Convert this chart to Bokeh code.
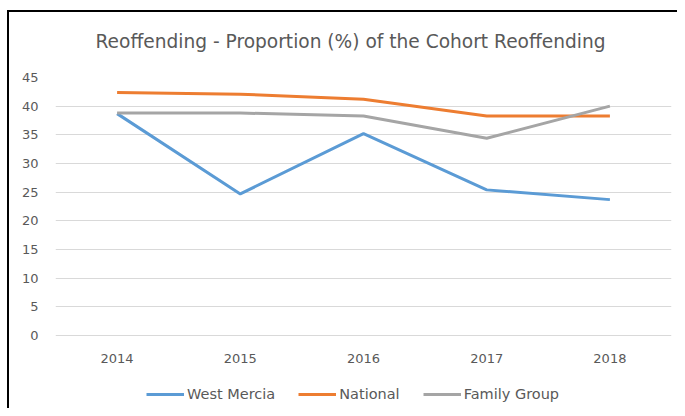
from bokeh.plotting import figure
from bokeh.models import Range1d, FixedTicker, Legend, LegendItem
from bokeh.embed import file_html
from bokeh.resources import INLINE

years = ["2014", "2015", "2016", "2017", "2018"]
west_mercia = [38.7, 24.7, 35.2, 25.4, 23.7]
national = [42.4, 42.1, 41.2, 38.3, 38.3]
family_group = [38.8, 38.8, 38.3, 34.4, 40.0]
y_ticks = [0, 5, 10, 15, 20, 25, 30, 35, 40, 45]

FONT = "DejaVu Sans"
TXT = "#595959"

p = figure(width=677, height=408, x_range=years, y_range=Range1d(-12.73, 45),
           output_backend="svg", toolbar_location=None,
           min_border_left=55, min_border_right=6, min_border_top=77, min_border_bottom=0,
           border_fill_color=None, background_fill_color="white",
           styles={"background-image": "linear-gradient(#000,#000), linear-gradient(#000,#000)",
                   "background-size": "2px 100%, 100% 2px",
                   "background-position": "7px 10px, 7px 10px",
                   "background-repeat": "no-repeat"})
p.x_range.range_padding = 0

p.title.text = "Reoffending - Proportion (%) of the Cohort Reoffending"
p.title.text_font = FONT
p.title.text_font_size = "18.6px"
p.title.text_font_style = "normal"
p.title.text_color = TXT
p.title.align = "left"
p.title.offset = 40
p.title.standoff = 51

p.outline_line_color = None

p.xgrid.grid_line_color = None
p.ygrid.grid_line_color = "#D9D9D9"
p.ygrid.grid_line_width = 1
p.yaxis.ticker = FixedTicker(ticks=y_ticks)
p.xaxis.fixed_location = 0

for ax in (p.xaxis, p.yaxis):
    ax.axis_line_color = None
    ax.major_tick_line_color = None
    ax.minor_tick_line_color = None
    ax.major_tick_out = 0
    ax.major_tick_in = 0
    ax.major_label_text_font = FONT
    ax.major_label_text_font_size = "13px"
    ax.major_label_text_color = TXT
p.yaxis.major_label_standoff = 17
p.xaxis.major_label_standoff = 18

r1 = p.line(years, west_mercia, line_color="#5B9BD5", line_width=3)
r2 = p.line(years, national, line_color="#ED7D31", line_width=3)
r3 = p.line(years, family_group, line_color="#A5A5A5", line_width=3)

legend = Legend(items=[LegendItem(label="West Mercia", renderers=[r1]),
                       LegendItem(label="National", renderers=[r2]),
                       LegendItem(label="Family Group", renderers=[r3])],
                orientation="horizontal", location=(91, 6),
                label_text_font=FONT, label_text_font_size="14.5px", label_text_color=TXT,
                glyph_width=38, glyph_height=14, label_height=14, label_standoff=3, spacing=23,
                padding=2, margin=0, border_line_color=None, background_fill_alpha=0)
p.add_layout(legend)

open("out.html", "w").write(file_html(p, INLINE))
